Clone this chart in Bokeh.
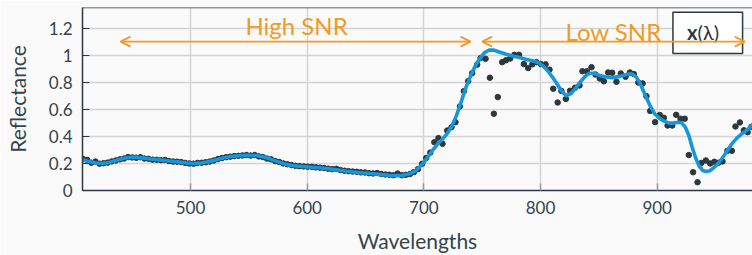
from bokeh.plotting import figure
from bokeh.models import (Range1d, FixedTicker, Arrow, OpenHead, Label, Span,
                          BoxAnnotation)
from bokeh.embed import file_html
from bokeh.resources import INLINE

# ---------------- data ----------------
obs_wl = [408, 411.5, 415, 418.5, 422, 425.5, 429, 432.5, 436, 439.5, 443, 446.5, 450, 453.5,
          457, 460.5, 464, 467.5, 471, 474.5, 478, 481.5, 485, 488.5, 492, 495.5, 499, 502.5,
          506, 509.5, 513, 516.5, 520, 523.5, 527, 530.5, 534, 537.5, 541, 544.5, 548, 551.5,
          555, 558.5, 562, 565.5, 569, 572.5, 576, 579.5, 583, 586.5, 590, 593.5, 597, 600.5,
          604, 607.5, 611, 614.5, 618, 621.5, 625, 628.5, 632, 635.5, 639, 642.5, 646, 649.5,
          653, 656.5, 660, 663.5, 667, 670.5, 674, 677.5, 681, 684.5, 688, 691.5, 695, 698.5,
          702, 705.5, 709, 712.5, 716, 720, 723.7,
          727.1, 730.9, 734.3, 738.0, 741.4, 745.7, 748.6, 752.9, 756.6, 760.0, 763.4, 767.1,
          770.4, 774.0, 777.6, 781.6, 785.7, 789.4, 793.0, 796.6, 800.2, 804.3, 807.7, 810.9,
          814.7, 817.9, 821.7, 825.3, 829.5, 833.4, 835.9, 839.7, 843.7, 847.1, 850.8, 854.3,
          857.9, 861.4, 865.1, 868.8, 872.9, 876.6, 880.0, 883.8, 887.5, 890.8, 894.0, 898.2,
          902.2, 905.7, 908.9, 912.9, 916.3, 920.0, 923.6, 927.1, 930.8, 934.6, 937.9, 941.7,
          945.4, 949.0, 952.5, 956.0, 960.2, 964.0, 967.1, 970.9, 974.3, 977.5, 980.8]
obs_refl = [0.232, 0.226, 0.205, 0.214, 0.198, 0.202, 0.206, 0.215, 0.222, 0.230, 0.236, 0.247,
            0.244, 0.242, 0.246, 0.236, 0.234, 0.228, 0.227, 0.224, 0.226, 0.218, 0.214, 0.213,
            0.210, 0.204, 0.200, 0.198, 0.204, 0.205, 0.209, 0.214, 0.222, 0.232, 0.240, 0.246,
            0.250, 0.254, 0.256, 0.259, 0.262, 0.258, 0.262, 0.252, 0.247, 0.236, 0.230, 0.218,
            0.211, 0.200, 0.194, 0.188, 0.182, 0.180, 0.178, 0.176, 0.175, 0.171, 0.169, 0.166,
            0.161, 0.158, 0.160, 0.151, 0.146, 0.143, 0.140, 0.138, 0.134, 0.133, 0.128, 0.126,
            0.129, 0.122, 0.118, 0.116, 0.113, 0.125, 0.113, 0.116, 0.121, 0.136, 0.158, 0.197,
            0.240, 0.280, 0.357, 0.387, 0.345, 0.443, 0.468,
            0.505, 0.621, 0.734, 0.808, 0.867, 0.930, 0.978, 0.973, 0.833, 0.567, 0.690, 0.948,
            0.962, 0.975, 1.002, 1.002, 0.934, 0.905, 0.932, 0.948, 0.935, 0.932, 0.893, 0.752,
            0.650, 0.736, 0.676, 0.737, 0.759, 0.776, 0.881, 0.881, 0.911, 0.857, 0.827, 0.807,
            0.872, 0.870, 0.803, 0.865, 0.840, 0.872, 0.860, 0.798, 0.791, 0.697, 0.588, 0.505,
            0.558, 0.537, 0.480, 0.480, 0.559, 0.530, 0.530, 0.262, 0.135, 0.061, 0.204, 0.222,
            0.200, 0.212, 0.205, 0.215, 0.293, 0.293, 0.473, 0.503, 0.445, 0.431, 0.470]

fit_wl = [407, 412, 418, 424, 430, 436, 442, 448, 454, 460, 466, 472, 478, 484, 490, 496, 502,
          508, 514, 520, 526, 532, 538, 544, 550, 556, 562, 568, 574, 580, 586, 592, 598, 604,
          610, 616, 622, 628, 634, 640, 646, 652, 658, 664, 670, 676, 682, 688, 692, 696, 700,
          704, 708, 712, 716, 720, 724, 728, 732, 736, 740, 744, 748, 752, 756, 760, 764, 770,
          776, 782, 788, 794, 798, 802, 806, 810, 814, 818, 822, 826, 830, 834, 838, 842, 846,
          850, 856, 862, 868, 874, 878, 882, 886, 890, 894, 898, 902, 906, 910, 914, 918, 921,
          924, 927, 930, 933, 936, 939, 942, 945, 948, 952, 956, 960, 964, 968, 972, 976, 980,
          984]
fit_refl = [0.228, 0.216, 0.205, 0.199, 0.207, 0.221, 0.236, 0.245, 0.245, 0.239, 0.233, 0.228,
            0.222, 0.216, 0.210, 0.204, 0.200, 0.202, 0.210, 0.222, 0.236, 0.247, 0.254, 0.258,
            0.260, 0.258, 0.250, 0.234, 0.215, 0.198, 0.187, 0.180, 0.176, 0.172, 0.168, 0.163,
            0.156, 0.149, 0.142, 0.136, 0.131, 0.127, 0.122, 0.117, 0.113, 0.110, 0.112, 0.124,
            0.142, 0.170, 0.208, 0.255, 0.303, 0.345, 0.380, 0.420, 0.475, 0.555, 0.655, 0.760,
            0.845, 0.920, 0.975, 1.018, 1.038, 1.037, 1.025, 1.008, 0.993, 0.982, 0.968, 0.956,
            0.945, 0.922, 0.887, 0.840, 0.790, 0.735, 0.700, 0.715, 0.755, 0.800, 0.842, 0.866,
            0.866, 0.852, 0.838, 0.834, 0.843, 0.858, 0.862, 0.840, 0.780, 0.700, 0.625, 0.565,
            0.533, 0.512, 0.498, 0.498, 0.505, 0.500, 0.470, 0.410, 0.320, 0.240, 0.180, 0.148,
            0.140, 0.146, 0.165, 0.197, 0.242, 0.292, 0.345, 0.385, 0.415, 0.440, 0.470, 0.505]

x_ticks = [500, 600, 700, 800, 900]
y_ticks = [0, 0.2, 0.4, 0.6, 0.8, 1, 1.2]
y_tick_labels = ["0", "0.2", "0.4", "0.6", "0.8", "1", "1.2"]

high_snr_span = [440, 740]
low_snr_span = [750, 975]
arrow_level = 1.1

# ---------------- styles ----------------
BG = "#fafafa"
TXT = "#34444a"
DARK = "#2b383d"
BLUE = "#1796dc"
ORANGE = "#f29a26"
GRID = "#d4d4d4"
FONT = "Lato"
Y_TOP = 1.352

p = figure(width=752, height=255, output_backend="svg", toolbar_location=None,
           x_range=Range1d(407.4, 981.7), y_range=Range1d(0, Y_TOP),
           background_fill_color=BG, border_fill_color=BG,
           min_border_left=82, min_border_right=0, min_border_top=7, min_border_bottom=65)
p.outline_line_color = None

p.scatter(obs_wl, obs_refl, size=5.5, color=DARK)
p.line(fit_wl, fit_refl, line_width=3.6, color=BLUE)

# axes
xa = p.xaxis[0]
xa.ticker = FixedTicker(ticks=x_ticks)
xa.axis_label = "Wavelengths"
ya = p.yaxis[0]
ya.ticker = FixedTicker(ticks=y_ticks)
ya.major_label_overrides = {t: l for t, l in zip(y_ticks, y_tick_labels)}
ya.axis_label = "Reflectance"
for ax in (xa, ya):
    ax.axis_line_color = DARK
    ax.axis_line_width = 1.5
    ax.major_tick_in = 7
    ax.major_tick_out = 0
    ax.minor_tick_line_color = None
    ax.major_label_text_font = FONT
    ax.major_label_text_font_size = "17px"
    ax.major_label_text_color = TXT
    ax.axis_label_text_font = FONT
    ax.axis_label_text_font_size = "21px"
    ax.axis_label_text_font_style = "normal"
    ax.axis_label_text_color = TXT
xa.major_tick_line_color = "#9a9a9a"
xa.major_tick_line_width = 1.5
ya.major_tick_line_color = DARK
xa.major_label_standoff = 10
xa.axis_label_standoff = 11
ya.major_label_standoff = 10
ya.axis_label_standoff = 16

# top border of the frame
p.add_layout(Span(location=Y_TOP, dimension="width", line_color=DARK, line_width=1.5))

p.xgrid.ticker = FixedTicker(ticks=x_ticks)
p.ygrid.ticker = FixedTicker(ticks=y_ticks)
p.grid.grid_line_color = GRID
p.grid.grid_line_width = 1.5

# legend-like box
box = BoxAnnotation(left=913.5, right=973.2, bottom=1.013, top=1.316,
                    fill_color="white", fill_alpha=1, line_color=DARK, line_alpha=1,
                    line_width=1.5)
p.add_layout(box)
p.add_layout(Label(x=934.6, y=1.168, text="x", text_align="right", text_baseline="middle",
                   text_font=FONT, text_font_style="bold", text_font_size="20px",
                   text_color=DARK))
p.add_layout(Label(x=934.6, y=1.168, text="(λ)", text_align="left", text_baseline="middle",
                   text_font=FONT, text_font_size="20px", text_color=DARK))

# SNR arrows
for (xs, xe) in (high_snr_span, low_snr_span):
    p.add_layout(Arrow(x_start=xs, y_start=arrow_level, x_end=xe, y_end=arrow_level,
                       line_color=ORANGE, line_width=1.8,
                       start=OpenHead(size=10, line_color=ORANGE, line_width=1.8),
                       end=OpenHead(size=10, line_color=ORANGE, line_width=1.8)))
p.add_layout(Label(x=590.9, y=1.219, text="High SNR", text_align="center",
                   text_baseline="alphabetic", text_font=FONT, text_font_size="24px",
                   text_color=ORANGE))
p.add_layout(Label(x=862.6, y=1.177, text="Low SNR", text_align="center",
                   text_baseline="alphabetic", text_font=FONT, text_font_size="24px",
                   text_color=ORANGE))

open("out.html", "w").write(file_html(p, INLINE))
